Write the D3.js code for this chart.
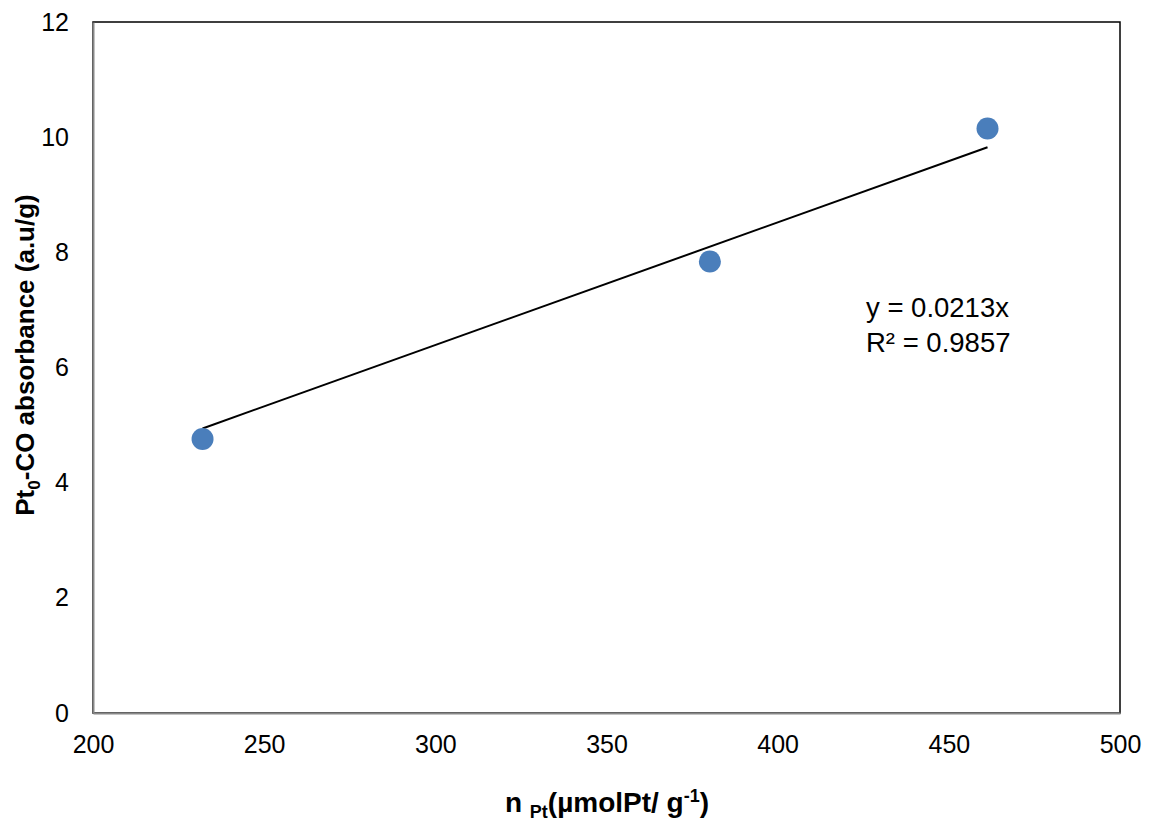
<!DOCTYPE html>
<html><head><meta charset="utf-8">
<script src="https://cdn.jsdelivr.net/npm/d3@7"></script>
<style>body{margin:0;background:#fff;} text{font-family:"Liberation Sans",Arial,sans-serif;}</style>
</head><body>
<svg id="c" width="1149" height="822"></svg>
<script>
const xVals = [232.0, 380.2, 461.3];
const yVals = [4.76, 7.84, 10.15];
const xTicks = [200, 250, 300, 350, 400, 450, 500];
const yTicks = [0, 2, 4, 6, 8, 10, 12];
const slope = 0.0213;
const r2 = 0.9857;

const svg = d3.select("#c");
const L = 93, R = 1120, T = 22, B = 713;
const x = d3.scaleLinear().domain([200, 500]).range([L, R]);
const y = d3.scaleLinear().domain([0, 12]).range([B, T]);
const FF = "Liberation Sans, Arial, sans-serif";

// frame
svg.append("rect").attr("x", L).attr("y", T).attr("width", R - L).attr("height", B - T)
  .attr("fill", "none").attr("stroke", "#000").attr("stroke-width", 1.5);

// axes
const xAxis = d3.axisBottom(x).tickValues(xTicks).tickSize(0).tickPadding(22);
const gx = svg.append("g").attr("transform", `translate(0,${B})`).call(xAxis);
gx.select(".domain").attr("stroke", "#888").attr("stroke-width", 2);
gx.selectAll("text").style("font-size", "25px").attr("fill", "#000").style("font-family", FF);

const yAxis = d3.axisLeft(y).tickValues(yTicks).tickSize(0).tickPadding(24);
const gy = svg.append("g").attr("transform", `translate(${L},0)`).call(yAxis);
gy.select(".domain").attr("stroke", "#888").attr("stroke-width", 2);
gy.selectAll("text").style("font-size", "25px").attr("fill", "#000").style("font-family", FF);

// trendline
const x0 = d3.min(xVals), x1 = d3.max(xVals);
svg.append("line")
  .attr("x1", x(x0)).attr("y1", y(slope * x0))
  .attr("x2", x(x1)).attr("y2", y(slope * x1))
  .attr("stroke", "#000").attr("stroke-width", 2);

// points
svg.selectAll("circle.pt").data(xVals.map((v, i) => [v, yVals[i]])).enter()
  .append("circle").attr("class", "pt")
  .attr("cx", d => x(d[0])).attr("cy", d => y(d[1])).attr("r", 11)
  .attr("fill", "#4a7ebb");

// equation
svg.append("text").attr("x", 866).attr("y", 317).style("font-size", "27.5px")
  .text(`y = ${slope}x`);
svg.append("text").attr("x", 866).attr("y", 352).style("font-size", "27.5px")
  .text(`R² = ${r2}`);

// x axis title
const xt = svg.append("text").attr("x", 607).attr("y", 812).attr("text-anchor", "middle")
  .style("font-size", "28px").attr("font-weight", "bold");
xt.append("tspan").text("n ");
xt.append("tspan").style("font-size", "18px").attr("dy", 6).text("Pt");
xt.append("tspan").attr("dy", -6).text("(µmolPt/ g");
xt.append("tspan").style("font-size", "18px").attr("dy", -10).text("-1");
xt.append("tspan").attr("dy", 10).text(")");

// y axis title
const yt = svg.append("text").attr("transform", "translate(34,355) rotate(-90)")
  .attr("text-anchor", "middle").style("font-size", "26px").attr("font-weight", "bold");
yt.append("tspan").text("Pt");
yt.append("tspan").style("font-size", "17px").attr("dy", 6).text("0");
yt.append("tspan").attr("dy", -6).text("-CO absorbance (a.u/g)");
</script>
</body></html>
